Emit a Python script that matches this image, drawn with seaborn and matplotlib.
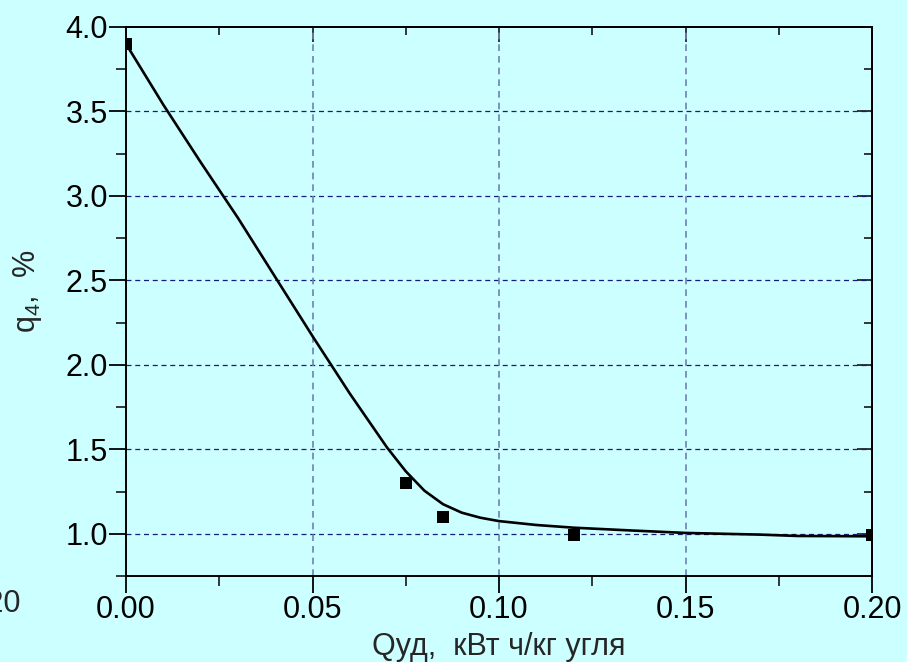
import matplotlib
matplotlib.use("Agg")
import matplotlib.pyplot as plt
import seaborn as sns
import pandas as pd
from matplotlib.ticker import MultipleLocator


# ---------------- DATA ----------------

# measured points
q_ud = [0.0, 0.075, 0.085, 0.12, 0.20]
q4 = [3.9, 1.3, 1.1, 0.99, 0.99]

# fitted curve
fit_x = [0.0, 0.01, 0.02, 0.03, 0.04, 0.05, 0.06, 0.07, 0.075, 0.08, 0.085,
         0.09, 0.095, 0.10, 0.11, 0.12, 0.135, 0.15, 0.17, 0.18, 0.20]
fit_y = [3.9, 3.54, 3.2, 2.87, 2.52, 2.17, 1.83, 1.51, 1.37, 1.255, 1.175,
         1.125, 1.095, 1.075, 1.052, 1.036, 1.02, 1.005, 0.995, 0.987, 0.985]

x_ticks = [0.00, 0.05, 0.10, 0.15, 0.20]
y_ticks = [1.0, 1.5, 2.0, 2.5, 3.0, 3.5, 4.0]

BG = "#CCFFFF"


# ---------------- STYLE ----------------

sns.set_style("ticks")
plt.rcParams["font.family"] = ["Liberation Sans", "DejaVu Sans"]
plt.rcParams["mathtext.fontset"] = "custom"
plt.rcParams["mathtext.rm"] = "Liberation Sans"
plt.rcParams["mathtext.it"] = "Liberation Sans"

fig = plt.figure(figsize=(9.07, 6.62), dpi=100, facecolor=BG)
ax = fig.add_axes([126 / 907, 1 - 576 / 662, 746 / 907, 549 / 662])
ax.set_facecolor(BG)

points = pd.DataFrame({"x": q_ud, "y": q4})
curve = pd.DataFrame({"x": fit_x, "y": fit_y})

sns.lineplot(data=curve, x="x", y="y", color="black", linewidth=1.9, ax=ax, zorder=3)
sns.scatterplot(data=points, x="x", y="y", marker="s", s=65, color="black",
                edgecolor="black", linewidth=0, ax=ax, zorder=4)

ax.set_xlim(0, 0.2)
ax.set_ylim(0.75, 4.0)
ax.set_xticks(x_ticks)
ax.set_yticks(y_ticks)
ax.set_xticklabels([f"{v:.2f}" for v in x_ticks])
ax.set_yticklabels([f"{v:.1f}" for v in y_ticks])
ax.xaxis.set_minor_locator(MultipleLocator(0.025))
ax.yaxis.set_minor_locator(MultipleLocator(0.25))

# grid: horizontal darker navy, vertical lighter slate
ax.grid(False)
for v in y_ticks[:-1]:
    ax.axhline(v, color="#1a1a78", linestyle=(0, (4, 3)), linewidth=0.9, zorder=1)
for v in x_ticks[1:-1]:
    ax.axvline(v, color="#6f80b4", linestyle=(0, (4, 3)), linewidth=1.2, zorder=1)

for side in ["left", "right", "top", "bottom"]:
    ax.spines[side].set_visible(True)
    ax.spines[side].set_linewidth(1.4)
    ax.spines[side].set_color("black")

ax.tick_params(which="major", direction="out", length=12, width=1.3,
               labelsize=22, colors="black")
ax.tick_params(axis="x", which="major", pad=2)
ax.tick_params(axis="y", which="major", pad=1)
ax.tick_params(which="minor", direction="out", length=7, width=1.3)

# inward ticks on top and right
top = ax.secondary_xaxis("top")
top.set_xticks(x_ticks)
top.xaxis.set_minor_locator(MultipleLocator(0.025))
top.tick_params(which="major", direction="in", length=11, width=1.3, labeltop=False)
top.tick_params(which="minor", direction="in", length=6, width=1.3)
top.spines["top"].set_linewidth(1.4)

right = ax.secondary_yaxis("right")
right.set_yticks(y_ticks)
right.yaxis.set_minor_locator(MultipleLocator(0.25))
right.tick_params(which="major", direction="in", length=11, width=1.3, labelright=False)
right.tick_params(which="minor", direction="in", length=6, width=1.3)
right.spines["right"].set_linewidth(1.4)

ax.set_xlabel("Qуд,  кВт ч/кг угля", fontsize=22, va="baseline")
ax.xaxis.set_label_coords(0.5, -(655 - 576) / 549)
ax.set_ylabel(r"q$_4$,  %", fontsize=22)
ax.yaxis.set_label_coords(-(126 - 44) / 746, (576 - 291) / 549)

# leftover label from the neighbouring plot
fig.text(21 / 907, 1 - 604 / 662, "0.20", fontsize=22, ha="right", va="center")

plt.savefig("out.png", dpi=100, facecolor=BG)
plt.close()
